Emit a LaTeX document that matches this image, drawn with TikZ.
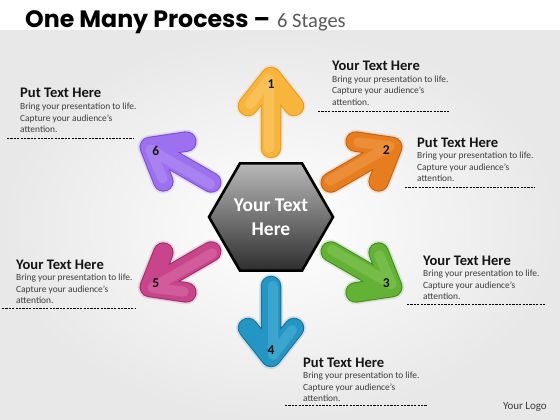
\documentclass[tikz,border=0pt]{standalone}
\usepackage{fontspec}
\setmainfont{Carlito}
\newfontfamily\titlefont{Poppins}
\usetikzlibrary{shapes.geometric}

\definecolor{bggray}{HTML}{E8E8E8}
\definecolor{headblack}{HTML}{141414}
\definecolor{bodygray}{HTML}{3C3C3C}
\definecolor{titlegray}{HTML}{5A5A5A}
% arrow colours: fill, edge, light
\definecolor{stfill1}{HTML}{F8B53C}\definecolor{stedge1}{HTML}{E39A1E}\definecolor{stlight1}{HTML}{FDD68A}
\definecolor{stfill2}{HTML}{E67E1F}\definecolor{stedge2}{HTML}{C2600E}\definecolor{stlight2}{HTML}{F5AE66}
\definecolor{stfill3}{HTML}{63B236}\definecolor{stedge3}{HTML}{3F8A1D}\definecolor{stlight3}{HTML}{97D46C}
\definecolor{stfill4}{HTML}{2596C3}\definecolor{stedge4}{HTML}{146F96}\definecolor{stlight4}{HTML}{69C1E2}
\definecolor{stfill5}{HTML}{C8458B}\definecolor{stedge5}{HTML}{9A2C69}\definecolor{stlight5}{HTML}{E486BA}
\definecolor{stfill6}{HTML}{9C70EE}\definecolor{stedge6}{HTML}{774ECC}\definecolor{stlight6}{HTML}{C2A6F8}

\newcommand{\blurb}{Bring your presentation to life.\\Capture your audience’s\\attention.}

\tikzset{
  thickarrow/.style={line cap=round, line join=round},
  hexa/.style={regular polygon, regular polygon sides=6, minimum size=124pt, inner sep=0pt,
    top color=gray!55, bottom color=black!82, draw=black, line width=2.6pt,
    text=white, font=\fontsize{19.5}{24}\selectfont\bfseries, align=center},
  numlabel/.style={font=\fontsize{13.5}{14}\selectfont\bfseries, text=headblack, inner sep=0pt},
  headtext/.style={anchor=base west, inner sep=0pt, text=headblack, font=\fontsize{14.6}{16}\selectfont\bfseries},
  bodytext/.style={anchor=base west, inner sep=0pt, align=left, text=bodygray, font=\fontsize{9.4}{11.5}\selectfont},
  rule/.style={dash pattern=on 2.2pt off 1.2pt, line width=0.9pt}
}

\begin{document}
\begin{tikzpicture}[x=1pt, y=-1pt]
\useasboundingbox (0,0) rectangle (560,420);
\fill[white] (0,0) rectangle (560,420);
\shade[inner color=white, outer color=bggray] (0,31) rectangle (560,420);

% title
\node[anchor=base west, inner sep=0pt] (title) at (25,28)
  {{\titlefont\bfseries\fontsize{23.7}{26}\selectfont One Many Process –}\hspace{7pt}{\color{titlegray}\fontsize{20.5}{22}\selectfont 6 Stages}};

% the six arrows
\foreach \ang/\i in {90/1, 30/2, -30/3, -90/4, -150/5, 150/6} {
  \begin{scope}[shift={(271,217)}, rotate=\ang]
    \draw[thickarrow, line width=24pt, stedge\i, opacity=.15] (69,0) -- (140,0) (111,-23) -- (140,0) -- (111,23);
    \draw[thickarrow, line width=20.5pt, stedge\i] (69,0) -- (140,0) (111,-23) -- (140,0) -- (111,23);
    \draw[thickarrow, line width=18.5pt, stfill\i] (69,0) -- (140,0) (111,-23) -- (140,0) -- (111,23);
    \draw[thickarrow, line width=10pt, stlight\i, opacity=.35] (69,-2) -- (138,-2) (113,-21) -- (138,-2);
    \node[numlabel] (num\i) at (133,0) {\i};
  \end{scope}
}

% hub
\node[hexa] (hub) at (271,217) {Your Text\\Here};

% text blocks (body anchored on its last line)
\foreach \i/\x/\y/\t/\ra/\rb/\ry in {1/332/71/Your Text Here/318/449/111,
    2/417/147/Put Text Here/405/535/187,
    3/423/265/Your Text Here/407/546/304,
    4/303/367/Put Text Here/285/427/405,
    5/16/269/Your Text Here/2/135/308,
    6/20/98/Put Text Here/7/134/138} {
  \node[headtext] (head\i) at (\x,\y) {\t};
  \node[bodytext] (body\i) at (\x,\y+34.5) {\blurb};
  \coordinate (rule\i a) at (\ra,\ry);
  \coordinate (rule\i b) at (\rb,\ry);
  \draw[rule] (rule\i a) -- (rule\i b);
}

\node[anchor=base east, inner sep=0pt, text=bodygray, font=\fontsize{11}{12}\selectfont] (logo) at (547,409) {Your Logo};
\end{tikzpicture}
\end{document}
